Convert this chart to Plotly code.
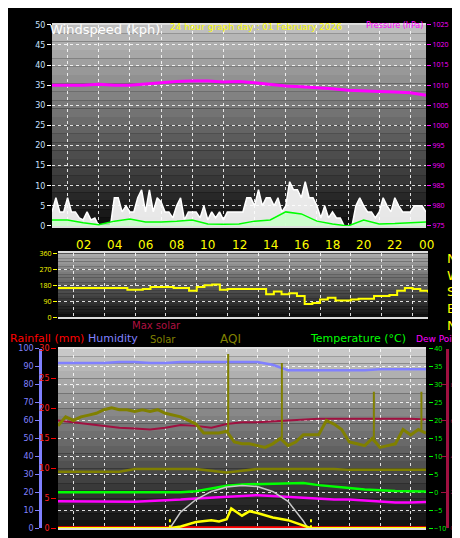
import plotly.graph_objects as go

# ---------------- data ----------------
hours_q = [i * 0.25 for i in range(97)]
wind_gust = [3.5,7,3.5,3.5,7, 3.5,3.5,2,1.5, 3.5,1.5,2,0, 0,0,0,7, 7,3.5,5,3.5,
             3.5,7,9,3.5, 9,3.5,7,6, 3.5,3.5,2,5, 7,1.5,3.5,3.5, 3.5,2,5,1.5,
             3.5,2,3.5,1.5, 3.5,3.5,3.5,3.5, 3.5,7,7,5, 9,5,7,7, 5,7,3.5,5,
             11,9,9,7, 11,7,7,5, 2,5,2,3.5, 2,2,0,0, 0,5,7,5, 3.5,3.5,2,3.5,
             7,5,3.5,7, 5,3.5,3.5,3.5, 5,5,5,3.5]
hours = list(range(25))
wind_avg = [1.5,1.5,0.8,0.3,1.2,1.7,1.0,1.0,1.2,1.5,0.5,0.4,0.5,1.2,1.5,3.5,3.0,1.2,0.5,0.0,1.5,0.5,0.6,0.8,1.0]
pressure = [1010,1010,1010,1010.2,1010,1010,1010.3,1010.6,1010.9,1011,1011,1010.8,1010.9,
            1010.6,1010.2,1009.8,1009.6,1009.4,1009.1,1008.7,1008.5,1008.4,1008.3,1008.1,1007.5]

hours_h = [i * 0.5 for i in range(49)]
wind_dir = [165]*9 + [155,155,160,170,170,170,165,165,150,170,180,185,155,160,160,160,160,160,
                      130,145,130,135,120,75,80,100,110,95,95,100,105,105,120,120,125,150,165,160,150,140]

humidity = [92,92,92,92,92.5,92.5,92,92,92.5,92.5,92.5,92.5,92.5,92.5,91,88,88,88,88,88,88,88.5,88.5,88.5,88.5]
rainfall = [0]*25
temperature = [0,0,0,0,-0.2,0,0,0,0,0.3,1,1.8,2.2,2.3,2.5,2.4,2.6,2.0,1.5,1.2,0.8,0.5,0.4,0.3,0.2]
dew_point = [-2.5,-2.5,-2.7,-2.5,-2.5,-2.6,-2.4,-2.3,-2,-1.7,-1.5,-1.2,-1,-0.8,-1,-1.3,-1.5,-1.8,-2,-2,-2.3,-2.7,-2.8,-2.8,-2.7]
solar_hours = [0,7.3,8,9,10,10.5,11,11.3,12,12.5,13,14,15,16,16.5,24]
solar = [0,0,10,35,45,38,50,110,70,95,85,60,45,15,0,0]
max_solar_hours = [0,7.3,8,9,10,11,12,13,14,15,16,16.3,24]
max_solar = [0,0,90,160,205,230,238,232,205,150,40,0,0]
aqi = [57,62,60,62,63,64,66,67,66,66,65,66,65,66,64,63,62,60,58,53,53,53,54,48,47,47,46,45,47,50,
       46,48,52,52,52,60,58,55,48,47,46,50,45,46,47,55,52,55,53]
aqi_spike_hours = [11.1, 14.6, 20.6, 23.7]
aqi_spike_base = [54, 50, 48, 55]
aqi_spike_peak = [97, 92, 76, 76]
aqi_base = [31.5,31.5,31.5,31.5,31.5,33,33,33,33,33,32,31,32,33,33,33,33,33,33,32.5,32.5,32.5,32.5,32.5,32.5]
max_solar_line = [60,59,58,57,56,55.5,55,56,57.5,57,56,58,59,59,59.5,60,60.5,61,61,61,61,61,61,61,60.5]
hour_ticks = [2,4,6,8,10,12,14,16,18,20,22,24]
hour_labels = ["02","04","06","08","10","12","14","16","18","20","22","00"]

# ---------------- figure ----------------
fig = go.Figure()
XT = [44/460, 418/460]
XM = [50/460, 420/460]
XB = [50/460, 418/460]
YT = [1-217/538, 1-12/538]
YM = [1-310/538, 1-245/538]
YB = [1-525/538, 1-342/538]

fig.add_trace(go.Scatter(x=hours_q, y=wind_gust, mode="lines", line=dict(color="white", width=1.5),
                         fill="tozeroy", fillcolor="rgba(255,255,255,0.9)", xaxis="x", yaxis="y"))
fig.add_trace(go.Scatter(x=hours, y=wind_avg, mode="lines", line=dict(color="#00ff00", width=1.5),
                         fill="tozeroy", fillcolor="rgba(200,255,200,0.85)", xaxis="x", yaxis="y"))
fig.add_trace(go.Scatter(x=hours, y=pressure, mode="lines", line=dict(color="#ff00ff", width=3),
                         xaxis="x", yaxis="y2"))
fig.add_trace(go.Scatter(x=hours_h, y=wind_dir, mode="lines", line=dict(color="#ffff00", width=2, shape="hv"),
                         xaxis="x2", yaxis="y3"))
fig.add_trace(go.Scatter(x=hours, y=humidity, mode="lines", line=dict(color="#8080ff", width=2.5), xaxis="x3", yaxis="y4"))
fig.add_trace(go.Scatter(x=hours, y=aqi_base, mode="lines", line=dict(color="#808000", width=2.5), xaxis="x3", yaxis="y8"))
fig.add_trace(go.Scatter(x=hours, y=max_solar_line, mode="lines", line=dict(color="#a01040", width=2), xaxis="x3", yaxis="y8"))
fig.add_trace(go.Scatter(x=hours_h, y=aqi, mode="lines", line=dict(color="#808000", width=3), xaxis="x3", yaxis="y8"))
sx, sy = [], []
for h, b, p in zip(aqi_spike_hours, aqi_spike_base, aqi_spike_peak):
    sx += [h, h, None]; sy += [b, p, None]
fig.add_trace(go.Scatter(x=sx, y=sy, mode="lines", line=dict(color="#808000", width=2), xaxis="x3", yaxis="y8"))
fig.add_trace(go.Scatter(x=max_solar_hours, y=max_solar, mode="lines", line=dict(color="#c8c8c8", width=1.5), xaxis="x3", yaxis="y7"))
fig.add_trace(go.Scatter(x=hours, y=temperature, mode="lines", line=dict(color="#00ff00", width=2.5), xaxis="x3", yaxis="y6"))
fig.add_trace(go.Scatter(x=hours, y=dew_point, mode="lines", line=dict(color="#ff00ff", width=2.5), xaxis="x3", yaxis="y6"))
fig.add_trace(go.Scatter(x=solar_hours, y=solar, mode="lines", line=dict(color="#ffff00", width=2.5), xaxis="x3", yaxis="y7"))
fig.add_trace(go.Scatter(x=[7.3, 7.3, None, 16.5, 16.5], y=[0, 55, None, 0, 55], mode="lines",
                         line=dict(color="#ffff00", width=2, dash="dot"), xaxis="x3", yaxis="y7"))
fig.add_trace(go.Scatter(x=hours, y=rainfall, mode="lines", line=dict(color="#ff0000", width=4), xaxis="x3", yaxis="y5"))

grid = dict(showgrid=True, gridcolor="rgba(255,255,255,0.85)", griddash="dot", gridwidth=1, zeroline=False)
tf = dict(size=8, family="DejaVu Sans")
xcommon = dict(range=[0, 24], tickvals=[1,3,5,7,9,11,13,15,17,19,21,23], fixedrange=True, **grid)
fig.update_layout(
    width=460, height=538, margin=dict(l=0, r=0, t=0, b=0),
    paper_bgcolor="black", plot_bgcolor="rgba(0,0,0,0)", showlegend=False,
    xaxis=dict(domain=XT, anchor="y", showticklabels=False, showline=True, linecolor="#dddddd", linewidth=2, mirror=True, **xcommon),
    xaxis2=dict(domain=XM, anchor="y3", showticklabels=False, showline=True, linecolor="#dddddd", linewidth=2, mirror=True, **xcommon),
    xaxis3=dict(domain=XB, anchor="y4", showticklabels=False, showline=True, linecolor="#dddddd", linewidth=2, mirror=True, **xcommon),
    yaxis=dict(domain=YT, range=[0, 50], dtick=5, tickfont=dict(color="#c8e0ff", **tf), ticks="outside",
               tickcolor="white", ticklen=4, **grid),
    yaxis2=dict(overlaying="y", side="right", range=[975, 1025], dtick=5, tickfont=dict(color="#ff00ff", size=7),
                ticks="outside", tickcolor="#ff00ff", ticklen=4, showgrid=False, zeroline=False),
    yaxis3=dict(domain=YM, anchor="x2", range=[0, 360], tickvals=[0, 90, 180, 270, 360], tickfont=dict(color="#ffff00", size=7),
                ticks="outside", tickcolor="#ffff00", ticklen=4, **grid),
    yaxis4=dict(domain=YB, anchor="free", position=0.07, range=[0, 100], dtick=10,
                tickfont=dict(color="#8080ff", **tf), ticks="outside", tickcolor="#8080ff", ticklen=4,
                showline=True, linecolor="#8080ff", linewidth=3, **grid),
    yaxis5=dict(overlaying="y4", anchor="free", position=XB[0]-0.004, range=[0, 30], dtick=5,
                tickfont=dict(color="#ff2020", **tf), ticks="outside", tickcolor="#ff0000", ticklen=5,
                showgrid=False, zeroline=False),
    yaxis6=dict(overlaying="y4", side="right", anchor="free", position=XB[1]+0.004, range=[-10, 40], dtick=5,
                tickfont=dict(color="#00ff00", size=7), ticks="outside", tickcolor="#00ff00", ticklen=4,
                showgrid=False, zeroline=False),
    yaxis7=dict(overlaying="y4", side="right", anchor="free", position=0.955, range=[0, 1000],
                tickvals=[0, 200, 400, 600, 800], tickfont=dict(color="#a01040", size=6), ticks="inside",
                tickcolor="#a01040", showline=True, linecolor="#a01040", linewidth=3, showgrid=False, zeroline=False),
    yaxis8=dict(overlaying="y4", range=[0, 100], visible=False),
)

shapes = []
def gradient(xd, yd, top, bot, n=24):
    for i in range(n):
        f = i / n
        c = int(top + (bot - top) * f)
        y1 = yd[1] - (yd[1]-yd[0]) * f
        y0 = yd[1] - (yd[1]-yd[0]) * (i+1) / n
        shapes.append(dict(type="rect", xref="paper", yref="paper", x0=xd[0], x1=xd[1], y0=y0, y1=y1,
                           fillcolor=f"rgb({c},{c},{c})", line=dict(width=0), layer="below"))
gradient(XT, YT, 190, 10)
gradient(XM, YM, 170, 10)
gradient(XB, YB, 200, 10)
fig.update_layout(shapes=shapes)

ann = []
for t, l in zip(hour_ticks, hour_labels):
    ann.append(dict(x=t, y=1-236/538, xref="x", yref="paper", text=l, showarrow=False,
                    font=dict(color="#ffff00", size=12, family="DejaVu Sans")))
def txt(x, y, s, c, size=14):
    ann.append(dict(x=x/460, y=1-y/538, xref="paper", yref="paper", text=s, showarrow=False,
                    xanchor="left", font=dict(color=c, size=size, family="DejaVu Sans")))
txt(40, 7, "Windspeed (kph)", "white", 13)
txt(160, 7, "24 hour graph day : 01 February 2026", "#ffff00", 9)
txt(356, 6, "Pressure (hPa)", "#ff00ff", 8)
txt(0, 332, "Rainfall (mm)", "#ff0000", 11)
txt(78, 332, "Humidity", "#8080ff", 11)
txt(122, 318, "Max solar", "#b01040", 10)
txt(140, 333, "Solar", "#808000", 10)
txt(210, 332, "AQI", "#808000", 12)
txt(300, 332, "Temperature (°C)", "#00ff00", 11)
txt(406, 332, "Dew Point", "#ff00ff", 9)
for i, ch in enumerate(["N", "W", "S", "E", "N"]):
    txt(437, 250 + i * 17, ch, "#ffff00", 13)
fig.update_layout(annotations=ann)

fig.write_html("out.html")
